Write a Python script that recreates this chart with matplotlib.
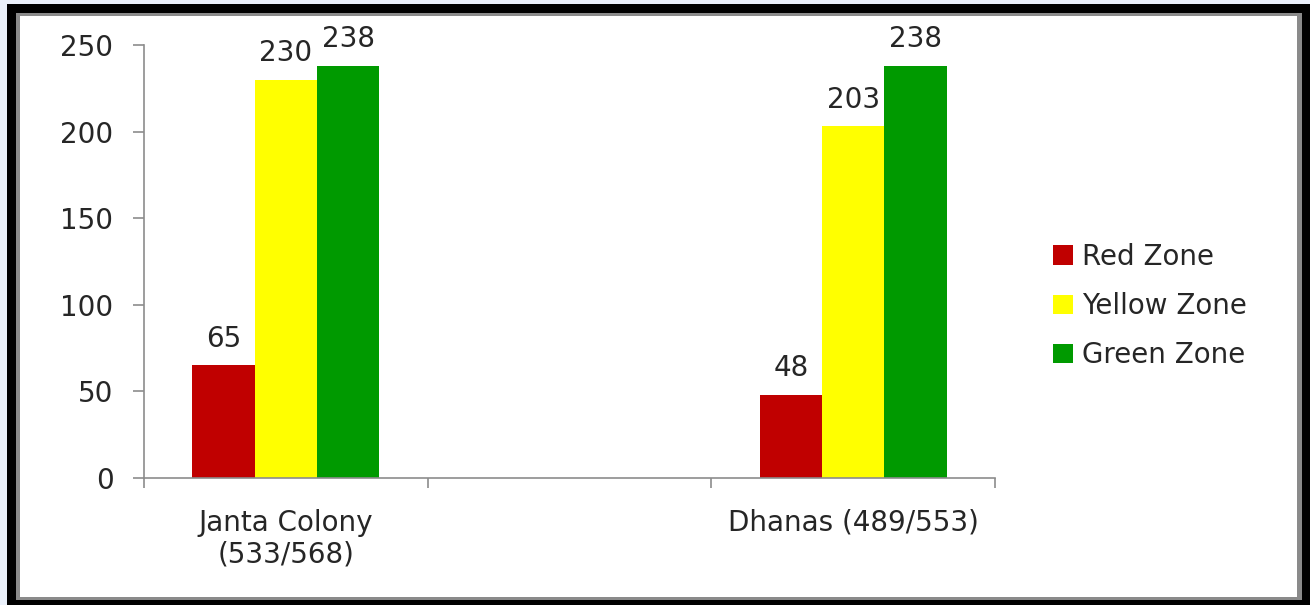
import matplotlib.pyplot as plt
from matplotlib.patches import Rectangle
import numpy as np

# Survey results per colony (middle slot is left empty on purpose)
sites = ["Janta Colony\n(533/568)", "", "Dhanas (489/553)"]
zones = ["Red Zone", "Yellow Zone", "Green Zone"]
red_zone = [65, None, 48]
yellow_zone = [230, None, 203]
green_zone = [238, None, 238]
zone_colors = ["#C00000", "#FFFF00", "#009A00"]

W, H = 1310, 605
plt.rcParams["font.family"] = ["DejaVu Sans"]
FS = 20
AXIS_GRAY = "#8c8c8c"
TEXT = "#262626"

fig = plt.figure(figsize=(W / 100, H / 100), dpi=100, facecolor="#eaf0fa")


def px_box(x0, y0, x1, y1):
    # pixel box measured from the top-left corner -> figure fraction
    return (x0 / W, 1 - y1 / H), (x1 - x0) / W, (y1 - y0) / H


# slide frame: black outline, thin gray bevel, white panel
for (x0, y0, x1, y1), col in [((7, 4, 1310, 605), "black"),
                              ((16, 13, 1302, 600), "#8a8a8a"),
                              ((20, 16, 1297, 597), "white")]:
    xy, w, h = px_box(x0, y0, x1, y1)
    fig.add_artist(Rectangle(xy, w, h, transform=fig.transFigure,
                             facecolor=col, edgecolor="none", zorder=-10))

ax = fig.add_axes([144 / W, 1 - 478 / H, (995 - 144) / W, (478 - 45) / H])
ax.set_facecolor("none")

x = np.arange(len(sites))
bw = 0.22
series = [red_zone, yellow_zone, green_zone]
for i, (vals, name, col) in enumerate(zip(series, zones, zone_colors)):
    xs = [xi + (i - 1) * bw for xi, v in zip(x, vals) if v is not None]
    vs = [v for v in vals if v is not None]
    bars = ax.bar(xs, vs, width=bw, color=col, label=name, zorder=2)
    for b, v in zip(bars, vs):
        ax.annotate(str(v), (b.get_x() + b.get_width() / 2, v),
                    xytext=(0, 13.5), textcoords="offset points",
                    ha="center", va="baseline", fontsize=FS, color=TEXT)

ax.set_xlim(-0.5, 2.5)
ax.set_ylim(0, 250)
ax.set_yticks(np.arange(0, 251, 50))
ax.tick_params(axis="y", length=8, width=1.2, color=AXIS_GRAY, pad=14,
               labelsize=FS, labelcolor=TEXT)

# category boundaries carry the tick marks, labels sit at the centres
ax.set_xticks(np.arange(-0.5, 2.6, 1.0))
ax.set_xticklabels([])
ax.tick_params(axis="x", which="major", length=7, width=1.2, color=AXIS_GRAY)
ax.set_xticks(x, minor=True)
ax.set_xticklabels(sites, minor=True, fontsize=FS, color=TEXT, linespacing=1.2)
ax.tick_params(axis="x", which="minor", length=0, pad=22)

for s in ["top", "right"]:
    ax.spines[s].set_visible(False)
for s in ["left", "bottom"]:
    ax.spines[s].set_color(AXIS_GRAY)
    ax.spines[s].set_linewidth(1.2)

leg = ax.legend(loc="center left", bbox_to_anchor=(1042 / W, 1 - 306 / H),
                bbox_transform=fig.transFigure, frameon=False, fontsize=FS,
                handlelength=0.7, handleheight=0.7, handletextpad=0.35,
                labelspacing=0.76, borderaxespad=0)
for t in leg.get_texts():
    t.set_color(TEXT)

fig.savefig("out.png", dpi=100, facecolor=fig.get_facecolor())
